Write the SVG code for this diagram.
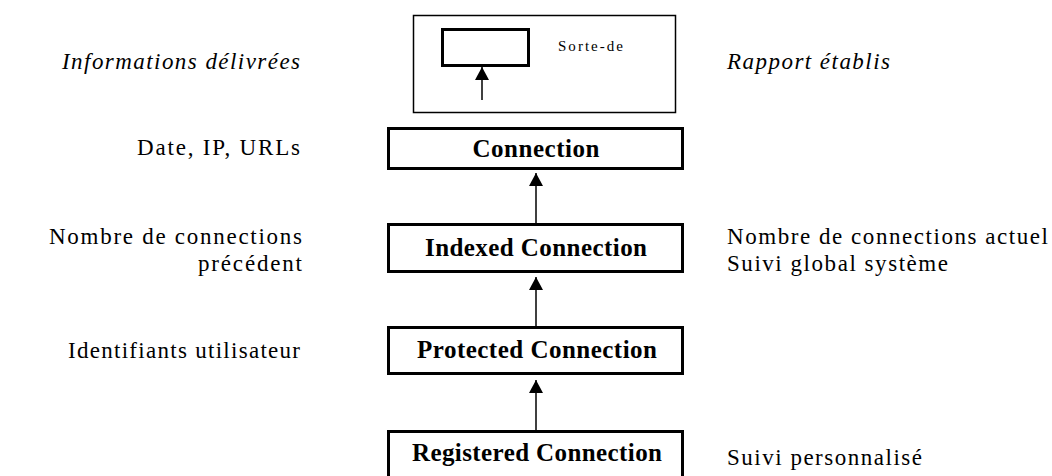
<svg xmlns="http://www.w3.org/2000/svg" width="1052" height="476" viewBox="0 0 1052 476">
<style>
  .lbl { font-family: "Liberation Serif", "Times New Roman", serif; font-size: 23px; fill: #000; }
  .ital { font-style: italic; }
  .end { text-anchor: end; }
  .node rect { fill: #fff; stroke: #000; stroke-width: 3; }
  .node text { font-family: "Liberation Serif", "Times New Roman", serif; font-size: 25px; font-weight: bold; text-anchor: middle; fill: #000; }
  .conn line { stroke: #000; stroke-width: 1.5; marker-end: url(#tri); }
</style>
<defs>
  <marker id="tri" viewBox="0 0 13 14" refX="13" refY="7" markerWidth="13" markerHeight="14" markerUnits="userSpaceOnUse" orient="auto">
    <path d="M0,0 L13,7 L0,14 Z" fill="#000"/>
  </marker>
</defs>
<rect width="1052" height="476" fill="#fff"/>

<g id="legend">
  <rect x="413.5" y="15.5" width="262" height="97" fill="#fff" stroke="#000" stroke-width="1.5"/>
  <rect x="442.5" y="29.5" width="86" height="36" fill="#fff" stroke="#000" stroke-width="3"/>
  <line x1="482" y1="100" x2="482" y2="67" stroke="#000" stroke-width="1.5" marker-end="url(#tri)"/>
  <text x="558" y="51" font-family="Liberation Serif, Times New Roman, serif" font-size="15" textLength="65" lengthAdjust="spacing">Sorte-de</text>
</g>

<g id="left-labels">
  <text class="lbl ital end" x="300" y="69" textLength="238" lengthAdjust="spacing">Informations délivrées</text>
  <text class="lbl end" x="300" y="155" textLength="163" lengthAdjust="spacing">Date, IP, URLs</text>
  <text class="lbl end" x="302" y="244" textLength="253" lengthAdjust="spacing">Nombre de connections</text>
  <text class="lbl end" x="302" y="271" textLength="104" lengthAdjust="spacing">précédent</text>
  <text class="lbl end" x="300" y="358" textLength="232" lengthAdjust="spacing">Identifiants utilisateur</text>
</g>

<g id="right-labels">
  <text class="lbl ital" x="727" y="69" textLength="163" lengthAdjust="spacing">Rapport établis</text>
  <text class="lbl" x="727" y="244" textLength="321" lengthAdjust="spacing">Nombre de connections actuel</text>
  <text class="lbl" x="727" y="271" textLength="221" lengthAdjust="spacing">Suivi global système</text>
  <text class="lbl" x="727" y="465" textLength="195" lengthAdjust="spacing">Suivi personnalisé</text>
</g>

<g id="connectors" class="conn">
  <line x1="536" y1="223" x2="536" y2="173"/>
  <line x1="536" y1="326" x2="536" y2="277"/>
  <line x1="536" y1="430" x2="536" y2="380"/>
</g>

<g id="node-connection" class="node">
  <rect x="388.5" y="128.5" width="294" height="40"/>
  <text x="536" y="157" textLength="127" lengthAdjust="spacing">Connection</text>
</g>
<g id="node-indexed" class="node">
  <rect x="388.5" y="224.5" width="294" height="47"/>
  <text x="536" y="256" textLength="222" lengthAdjust="spacing">Indexed Connection</text>
</g>
<g id="node-protected" class="node">
  <rect x="388.5" y="327.5" width="294" height="46"/>
  <text x="537" y="358" textLength="240" lengthAdjust="spacing">Protected Connection</text>
</g>
<g id="node-registered" class="node">
  <rect x="388.5" y="431.5" width="294" height="60"/>
  <text x="537" y="461" textLength="250" lengthAdjust="spacing">Registered Connection</text>
</g>
</svg>
